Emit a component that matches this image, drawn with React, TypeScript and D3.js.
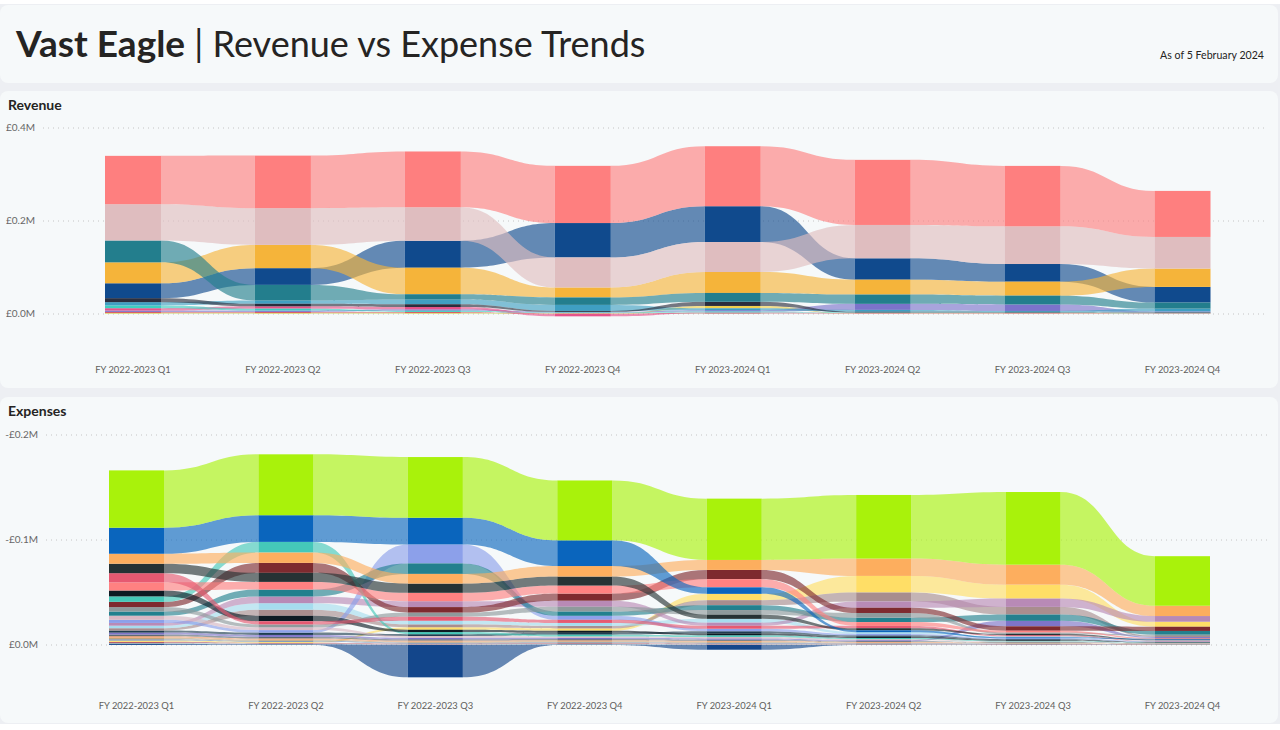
import React from "react";
import * as d3 from "d3";

// ---------- DATA ----------
const quarters = [
  "FY 2022-2023 Q1", "FY 2022-2023 Q2", "FY 2022-2023 Q3", "FY 2022-2023 Q4",
  "FY 2023-2024 Q1", "FY 2023-2024 Q2", "FY 2023-2024 Q3", "FY 2023-2024 Q4",
];

// Revenue (in £M)
const revenueNames = [
  "Consulting", "Subscriptions", "Licensing", "Services", "Projects", "Training",
  "Support", "Maintenance", "Royalties", "Partnerships", "Grants", "Interest", "Other",
];
const revenueColors = [
  "#FE7F7F", "#DFBDBF", "#237E8D", "#F5B43A", "#104A8D", "#2B2E3D",
  "#3F9FC2", "#3ECFC0", "#E7538A", "#7C73CB", "#D64550", "#F0D04E", "#9FD9A8",
];
const revConsulting = [0.104, 0.113, 0.120, 0.123, 0.129, 0.140, 0.130, 0.099];
const revSubscriptions = [0.078, 0.079, 0.072, 0.0645, 0.0645, 0.0717, 0.081, 0.068];
const revLicensing = [0.047, 0.0336, 0.0115, 0.016, 0.019, 0.020, 0.019, 0.013];
const revServices = [0.045, 0.050, 0.057, 0.0215, 0.045, 0.032, 0.030, 0.0394];
const revProjects = [0.032, 0.036, 0.058, 0.074, 0.077, 0.046, 0.038, 0.0337];
const revTraining = [0.0086, 0.0055, 0.006, 0.002, 0.009, 0.0015, 0.0012, 0.001];
const revSupport = [0.007, 0.007, 0.010, 0.013, 0.004, 0.004, 0.002, 0.006];
const revMaintenance = [0.006, 0.004, 0.0025, 0.001, 0.002, 0.001, 0.001, 0.0008];
const revRoyalties = [0.005, 0.005, 0.005, -0.005, 0.0015, 0.0008, 0.0008, 0.0006];
const revPartnerships = [0.003, 0.003, 0.003, 0.0015, 0.003, 0.013, 0.014, 0.002];
const revGrants = [0.002, 0.002, 0.002, 0.0007, 0.0008, 0.0004, 0.0004, 0.0003];
const revInterest = [0.0015, 0.0015, 0.0015, 0.0006, 0.005, 0.0005, 0.0005, 0.0004];
const revOther = [0.001, 0.001, 0.001, 0.0008, 0.001, 0.0006, 0.0006, 0.0005];
const revenueValues = [
  revConsulting, revSubscriptions, revLicensing, revServices, revProjects, revTraining,
  revSupport, revMaintenance, revRoyalties, revPartnerships, revGrants, revInterest, revOther,
];
const revenueTicks = [0, 0.2, 0.4];

// Expenses (in £M, negative = cost)
const expenseNames = [
  "Salaries", "Contractors", "Rent", "Software", "Marketing", "Travel", "Hosting",
  "Recruitment", "Equipment", "Utilities", "Insurance", "Legal", "Training", "Office",
  "Telecoms", "Accounting", "Bank Fees", "Subscriptions", "Entertainment", "Postage",
  "Printing", "Repairs", "Cleaning", "Sundries", "Depreciation", "Refunds",
];
const expenseColors = [
  "#A9F20B", "#0A65BD", "#FDAE5E", "#263234", "#E65971", "#FF8181", "#0D1B24",
  "#45C8B9", "#7E2A2F", "#8E9A9C", "#22808E", "#D8B7C3", "#8CA0EA", "#B88AB6",
  "#A6DCEE", "#A88D8E", "#1E3D50", "#7E74C9", "#5E6B74", "#F29E6A", "#C0A47A",
  "#6F8FB8", "#FFDE66", "#B55D6C", "#9BB1BC", "#13468B",
];
const expSalaries = [-0.0546, -0.058, -0.0578, -0.057, -0.0584, -0.0606, -0.0692, -0.0472];
const expContractors = [-0.0248, -0.0254, -0.0254, -0.0245, -0.0062, -0.0018, -0.0009, -0.0007];
const expRent = [-0.0095, -0.0098, -0.0092, -0.0100, -0.0095, -0.0165, -0.0190, -0.0098];
const expSoftware = [-0.0090, -0.0086, -0.0088, -0.0086, -0.0040, -0.0020, -0.0012, -0.0006];
const expMarketing = [-0.0087, -0.0030, -0.0038, -0.0030, -0.0028, -0.0022, -0.0011, -0.0005];
const expTravel = [-0.0078, -0.0073, -0.0080, -0.0076, -0.0078, -0.0036, -0.0016, -0.0008];
const expHosting = [-0.0056, -0.0052, -0.0022, -0.0020, -0.0018, -0.0012, -0.0007, -0.00038];
const expRecruitment = [-0.0052, -0.0102, -0.0020, -0.0016, -0.0016, -0.0011, -0.00065, -0.00036];
const expEquipment = [-0.0050, -0.0095, -0.0052, -0.0068, -0.0088, -0.0050, -0.0042, -0.0040];
const expUtilities = [-0.0042, -0.0028, -0.0040, -0.0044, -0.0044, -0.0045, -0.0014, -0.0012];
const expInsurance = [-0.0040, -0.0066, -0.0100, -0.0042, -0.0046, -0.0042, -0.0060, -0.0036];
const expLegal = [-0.0039, -0.0026, -0.0016, -0.0014, -0.0014, -0.0010, -0.0006, -0.0003];
const expTraining = [-0.0030, -0.0024, -0.0181, -0.0038, -0.0024, -0.0014, -0.00085, -0.00048];
const expOffice = [-0.0026, -0.0064, -0.0056, -0.0058, -0.0030, -0.0060, -0.0079, -0.0054];
const expTelecoms = [-0.0024, -0.0062, -0.0034, -0.0028, -0.0036, -0.0016, -0.0010, -0.00058];
const expAccounting = [-0.0022, -0.0058, -0.0028, -0.0024, -0.0048, -0.0085, -0.0073, -0.0010];
const expBankFees = [-0.0020, -0.0022, -0.0018, -0.0018, -0.0020, -0.0013, -0.0008, -0.0004];
const expSubscriptions = [-0.0018, -0.0019, -0.0014, -0.0012, -0.0012, -0.0009, -0.0052, -0.0009];
const expEntertainment = [-0.0016, -0.0014, -0.0012, -0.0011, -0.0011, -0.0008, -0.00055, -0.00029];
const expPostage = [-0.0015, -0.0012, -0.0011, -0.0010, -0.0010, -0.0007, -0.0005, -0.00028];
const expPrinting = [-0.0014, -0.0011, -0.0010, -0.0009, -0.0009, -0.0006, -0.00045, -0.00027];
const expRepairs = [-0.0013, -0.0010, -0.0009, -0.0008, -0.0008, -0.0005, -0.0004, -0.0002];
const expCleaning = [-0.0012, -0.0009, -0.0024, -0.0022, -0.0060, -0.0158, -0.0133, -0.0048];
const expSundries = [-0.0011, -0.0008, -0.0007, -0.0007, -0.0007, -0.0004, -0.00035, -0.00019];
const expDepreciation = [-0.0010, -0.0007, -0.0006, -0.0006, -0.0006, -0.00039, -0.0003, -0.00018];
const expRefunds = [-0.0009, -0.0006, 0.0308, -0.0005, 0.0045, -0.0003, -0.00025, -0.00017];
const expenseValues = [
  expSalaries, expContractors, expRent, expSoftware, expMarketing, expTravel, expHosting,
  expRecruitment, expEquipment, expUtilities, expInsurance, expLegal, expTraining, expOffice,
  expTelecoms, expAccounting, expBankFees, expSubscriptions, expEntertainment, expPostage,
  expPrinting, expRepairs, expCleaning, expSundries, expDepreciation, expRefunds,
];
const expenseTicks = [0, -0.1, -0.2];

// ---------- LAYOUT HELPERS ----------
type Seg = { lo: number; hi: number };

function stackColumns(values: number[][], dir: number): Seg[][] {
  const nS = values.length;
  const nC = values[0].length;
  const out: Seg[][] = values.map(() => new Array(nC));
  for (let c = 0; c < nC; c++) {
    const idx = d3.range(nS);
    const up = idx
      .filter((s) => values[s][c] * dir >= 0)
      .sort((a, b) => Math.abs(values[a][c]) - Math.abs(values[b][c]) || b - a);
    let acc = 0;
    for (const s of up) {
      const v = values[s][c];
      out[s][c] = { lo: acc, hi: acc + v };
      acc += v;
    }
    const down = idx
      .filter((s) => values[s][c] * dir < 0)
      .sort((a, b) => Math.abs(values[a][c]) - Math.abs(values[b][c]) || b - a);
    acc = 0;
    for (const s of down) {
      const v = values[s][c];
      out[s][c] = { lo: acc, hi: acc + v };
      acc += v;
    }
  }
  return out;
}

function ribbonPath(x0: number, t0: number, b0: number, x1: number, t1: number, b1: number) {
  const xm = (x0 + x1) / 2;
  const p = d3.path();
  p.moveTo(x0, t0);
  p.bezierCurveTo(xm, t0, xm, t1, x1, t1);
  p.lineTo(x1, b1);
  p.bezierCurveTo(xm, b1, xm, b0, x0, b0);
  p.closePath();
  return p.toString();
}

const FONT = "'Segoe UI', Lato, 'Open Sans', sans-serif";

const fmtTick = (v: number) =>
  (v < 0 ? "-" : "") + "£" + d3.format(".1f")(Math.abs(v)) + "M";

type ChartProps = {
  values: number[][];
  colors: string[];
  dir: number;
  yDomain: [number, number];
  yRange: [number, number];
  ticks: number[];
  xFirst: number;
  xLast: number;
  barWidth: number;
  labelY: number;
  tickRight: number;
  gridX0: number;
  gridX1: number;
};

function RibbonChart(p: ChartProps) {
  const x = d3.scalePoint<string>().domain(quarters).range([p.xFirst, p.xLast]);
  const y = d3.scaleLinear().domain(p.yDomain).range(p.yRange);
  const stacks = stackColumns(p.values, p.dir);
  const bw = p.barWidth;
  const nC = quarters.length;

  const ribbons: JSX.Element[] = [];
  const bars: JSX.Element[] = [];
  for (let s = p.values.length - 1; s >= 0; s--) {
    for (let c = 0; c < nC - 1; c++) {
      const a = stacks[s][c];
      const b = stacks[s][c + 1];
      const ya0 = y(a.lo), ya1 = y(a.hi);
      const yb0 = y(b.lo), yb1 = y(b.hi);
      const x0 = (x(quarters[c]) as number) + bw / 2;
      const x1 = (x(quarters[c + 1]) as number) - bw / 2;
      ribbons.push(
        <path
          key={`r${s}-${c}`}
          d={ribbonPath(x0, Math.min(ya0, ya1), Math.max(ya0, ya1), x1, Math.min(yb0, yb1), Math.max(yb0, yb1))}
          fill={p.colors[s]}
          fillOpacity={0.64}
        />
      );
    }
    for (let c = 0; c < nC; c++) {
      const a = stacks[s][c];
      const y0 = y(a.lo), y1 = y(a.hi);
      bars.push(
        <rect
          key={`b${s}-${c}`}
          x={(x(quarters[c]) as number) - bw / 2}
          y={Math.min(y0, y1)}
          width={bw}
          height={Math.abs(y1 - y0)}
          fill={p.colors[s]}
        />
      );
    }
  }

  return (
    <g>
      {p.ticks.map((t) => (
        <g key={`t${t}`}>
          <line
            x1={p.gridX0}
            x2={p.gridX1}
            y1={y(t)}
            y2={y(t)}
            stroke="#C4C4C4"
            strokeWidth={1}
            strokeDasharray="1 4"
          />
          <text
            x={p.tickRight}
            y={y(t)}
            textAnchor="end"
            dominantBaseline="middle"
            fontSize={10}
            fill="#666666"
            fontFamily={FONT}
          >
            {fmtTick(t)}
          </text>
        </g>
      ))}
      {ribbons}
      {bars}
      {quarters.map((q) => (
        <text
          key={q}
          x={x(q) as number}
          y={p.labelY}
          textAnchor="middle"
          dominantBaseline="middle"
          fontSize={9.4}
          fill="#605E5C"
          fontFamily={FONT}
        >
          {q}
        </text>
      ))}
    </g>
  );
}

export default function App() {
  return (
    <div style={{ position: "fixed", left: 0, top: 0 }}>
      <svg width={1280} height={730} style={{ display: "block" }}>
        <rect x={0} y={0} width={1280} height={730} fill="#FFFFFF" />
        <rect x={0} y={4} width={1280} height={720} fill="#EDEFF3" />
        <rect x={0} y={5} width={1278} height={78} rx={8} fill="#F6F9FA" />
        <rect x={0} y={91} width={1278} height={297} rx={8} fill="#F6F9FA" />
        <rect x={0} y={397} width={1278} height={326} rx={8} fill="#F6F9FA" />

        <text x={16} y={57} fontFamily={FONT} fill="#252423">
          <tspan fontWeight={700} fontSize={37}>Vast Eagle</tspan>
          <tspan fontWeight={400} fontSize={36}> | Revenue vs Expense Trends</tspan>
        </text>
        <text x={1264} y={56} textAnchor="end" dominantBaseline="middle" fontFamily={FONT} fontSize={10.6} fill="#252423">
          As of 5 February 2024
        </text>

        <text x={8} y={110} fontFamily={FONT} fontSize={14} fontWeight={700} fill="#252423">Revenue</text>
        <text x={8} y={416} fontFamily={FONT} fontSize={14} fontWeight={700} fill="#252423">Expenses</text>

        <RibbonChart
          values={revenueValues}
          colors={revenueColors}
          dir={1}
          yDomain={[0, 0.4]}
          yRange={[314, 128]}
          ticks={revenueTicks}
          xFirst={133}
          xLast={1182.5}
          barWidth={56}
          labelY={371}
          tickRight={35}
          gridX0={43}
          gridX1={1268}
        />
        <RibbonChart
          values={expenseValues}
          colors={expenseColors}
          dir={-1}
          yDomain={[0, -0.2]}
          yRange={[645, 435]}
          ticks={expenseTicks}
          xFirst={136.5}
          xLast={1182.5}
          barWidth={55}
          labelY={707}
          tickRight={38}
          gridX0={46}
          gridX1={1268}
        />
      </svg>
    </div>
  );
}
